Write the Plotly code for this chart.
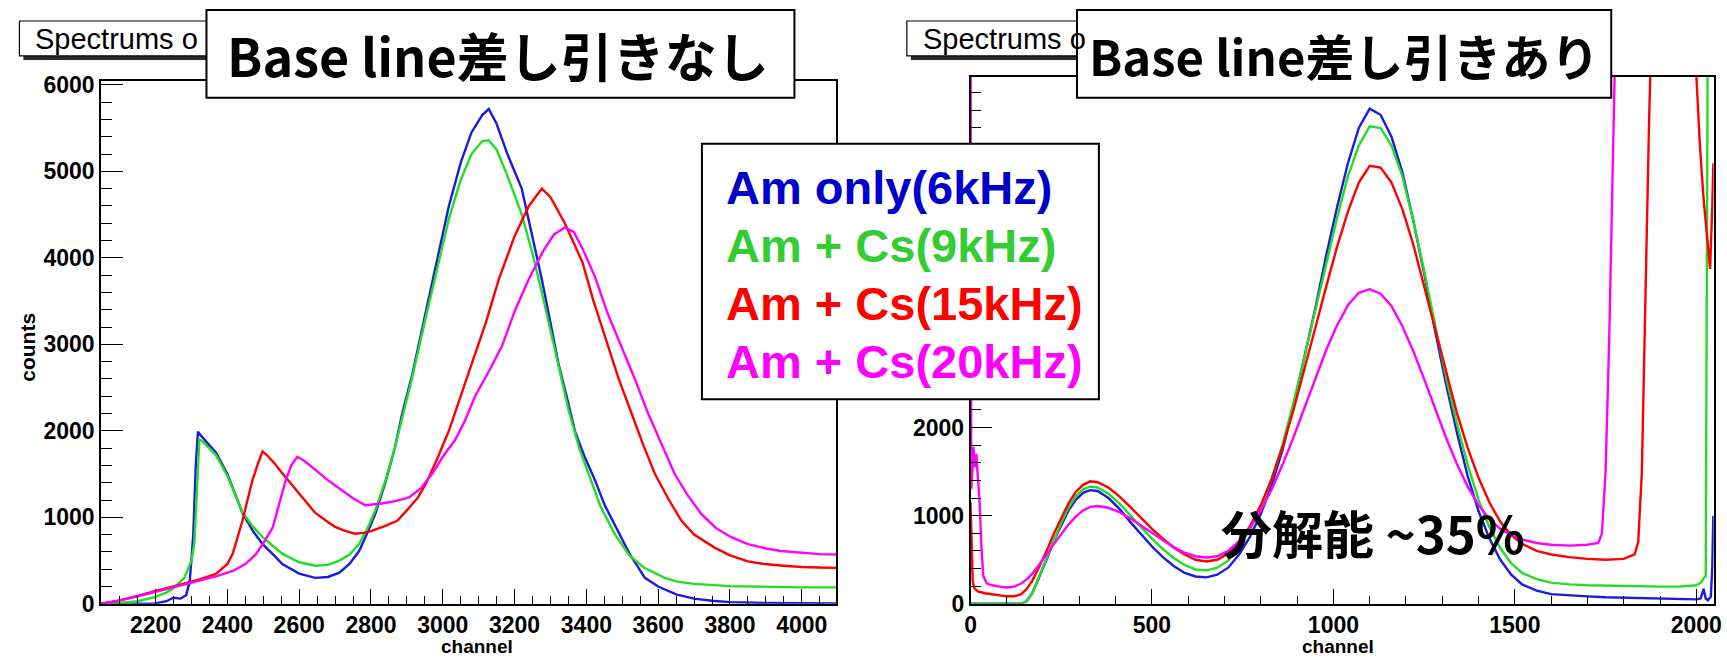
import plotly.graph_objects as go

W, H = 1727, 658

# ---------------- LEFT PANEL DATA (Base line subtraction off) ----------------
left_blue_ch = [2048, 2100, 2150, 2200, 2230, 2250, 2270, 2285, 2295, 2305, 2312, 2318, 2325, 2340, 2368, 2400, 2442, 2470, 2498, 2530, 2553, 2600, 2645, 2680, 2712, 2740, 2767, 2790, 2812, 2840, 2867, 2887, 2915, 2952, 2985, 3017, 3050, 3080, 3110, 3128, 3150, 3180, 3220, 3250, 3276, 3300, 3322, 3345, 3368, 3395, 3424, 3450, 3479, 3520, 3563, 3600, 3650, 3700, 3750, 3800, 3900, 4000, 4096]
left_blue_counts = [0, 0, 0, 5, 30, 70, 60, 100, 250, 800, 1600, 1990, 1950, 1880, 1750, 1500, 1050, 850, 690, 560, 460, 350, 300, 310, 360, 460, 610, 820, 1040, 1400, 1810, 2200, 2650, 3360, 4000, 4600, 5100, 5450, 5650, 5720, 5550, 5200, 4800, 4250, 3750, 3250, 2780, 2400, 2000, 1700, 1430, 1150, 920, 580, 300, 200, 110, 60, 35, 20, 10, 5, 5]

left_green_ch = [2048, 2100, 2150, 2200, 2230, 2250, 2280, 2300, 2308, 2313, 2318, 2322, 2330, 2368, 2400, 2442, 2470, 2498, 2530, 2553, 2600, 2645, 2680, 2712, 2740, 2767, 2790, 2812, 2840, 2867, 2890, 2915, 2952, 2985, 3017, 3050, 3080, 3110, 3128, 3150, 3180, 3220, 3250, 3276, 3300, 3322, 3350, 3380, 3410, 3440, 3480, 3520, 3560, 3618, 3650, 3700, 3800, 3900, 4000, 4096]
left_green_counts = [0, 10, 30, 80, 130, 180, 300, 500, 700, 1200, 1700, 1900, 1880, 1720, 1480, 1060, 900, 770, 660, 580, 480, 440, 450, 500, 570, 690, 870, 1080, 1420, 1810, 2200, 2620, 3300, 3900, 4450, 4900, 5200, 5350, 5360, 5250, 4950, 4500, 4050, 3600, 3150, 2750, 2250, 1800, 1450, 1120, 800, 560, 420, 300, 260, 230, 205, 195, 190, 190]

left_red_ch = [2048, 2090, 2150, 2200, 2250, 2276, 2320, 2368, 2400, 2415, 2430, 2442, 2456, 2470, 2485, 2498, 2510, 2530, 2553, 2575, 2600, 2620, 2645, 2675, 2700, 2730, 2756, 2780, 2800, 2840, 2873, 2900, 2931, 2952, 2985, 3017, 3053, 3081, 3120, 3156, 3200, 3240, 3276, 3300, 3340, 3389, 3420, 3461, 3490, 3526, 3560, 3591, 3630, 3665, 3700, 3757, 3800, 3850, 3896, 3950, 4000, 4050, 4096]
left_red_counts = [0, 30, 90, 150, 200, 230, 280, 345, 460, 580, 780, 960, 1200, 1430, 1620, 1760, 1720, 1630, 1510, 1400, 1280, 1170, 1050, 960, 890, 840, 810, 820, 840, 900, 960, 1080, 1230, 1380, 1680, 2000, 2450, 2780, 3250, 3750, 4250, 4600, 4800, 4700, 4400, 3950, 3500, 2980, 2600, 2200, 1820, 1500, 1200, 960, 800, 650, 560, 490, 460, 440, 425, 420, 415]

left_magenta_ch = [2048, 2100, 2184, 2250, 2322, 2370, 2415, 2450, 2479, 2500, 2526, 2545, 2562, 2578, 2595, 2615, 2645, 2680, 2720, 2750, 2784, 2831, 2870, 2906, 2940, 2970, 3000, 3034, 3060, 3090, 3130, 3165, 3200, 3239, 3280, 3310, 3340, 3365, 3390, 3424, 3460, 3498, 3535, 3572, 3610, 3646, 3683, 3720, 3760, 3803, 3850, 3900, 3942, 4000, 4050, 4096]
left_magenta_counts = [0, 40, 120, 190, 265, 320, 380, 460, 570, 700, 880, 1150, 1420, 1600, 1700, 1650, 1550, 1430, 1310, 1220, 1140, 1160, 1190, 1230, 1340, 1500, 1700, 1890, 2100, 2400, 2700, 2980, 3380, 3750, 4080, 4270, 4350, 4300, 4100, 3780, 3350, 2980, 2600, 2200, 1850, 1500, 1250, 1040, 880, 770, 690, 640, 610, 590, 575, 570]

# ---------------- RIGHT PANEL DATA (Base line subtraction on) ----------------
right_bg_ch = [0, 20, 60, 100, 140, 155, 170, 185, 200, 215, 230, 250, 270, 290, 310, 330, 350, 380, 410, 440, 470, 500, 530, 560, 590, 620, 650, 680, 710, 740, 770, 800, 830, 860, 890, 920, 950, 980, 1010, 1040, 1070, 1100, 1130, 1160, 1190, 1220, 1250, 1280, 1310, 1340, 1370, 1400, 1430, 1460, 1490, 1520, 1560, 1600, 1650, 1700, 1750, 1800, 1850, 1900, 1950, 2000, 2012, 2020, 2026, 2032, 2040, 2044, 2047]
right_blue_counts = [0, 0, 0, 0, 0, 30, 120, 260, 400, 560, 720, 900, 1060, 1180, 1260, 1290, 1280, 1200, 1080, 930, 790, 650, 530, 430, 350, 310, 300, 330, 410, 560, 760, 1020, 1350, 1750, 2250, 2800, 3350, 3950, 4500, 5000, 5400, 5620, 5550, 5300, 4900, 4350, 3750, 3100, 2500, 1950, 1450, 1050, 740, 500, 330, 220, 150, 110, 95, 85, 75, 70, 60, 55, 50, 50, 60, 170, 60, 40, 80, 400, 1000]
right_green_counts = [0, 0, 0, 0, 0, 30, 120, 270, 420, 580, 740, 920, 1090, 1220, 1300, 1330, 1320, 1250, 1140, 1000, 870, 740, 620, 520, 440, 390, 380, 410, 490, 640, 840, 1100, 1420, 1810, 2280, 2800, 3330, 3880, 4380, 4850, 5200, 5420, 5400, 5200, 4850, 4350, 3780, 3170, 2580, 2050, 1580, 1180, 870, 630, 460, 350, 280, 240, 220, 210, 205, 200, 200, 195, 195, 210, 240, 280, 320, 7000, 7000, 7000, 7000]

right_red_ch = [0, 3, 6, 10, 20, 40, 60, 80, 100, 120, 140, 155, 170, 185, 200, 215, 230, 250, 270, 290, 310, 330, 350, 380, 410, 440, 470, 500, 530, 560, 590, 620, 650, 680, 710, 740, 770, 800, 830, 860, 890, 920, 950, 980, 1010, 1040, 1070, 1100, 1130, 1160, 1190, 1220, 1250, 1280, 1310, 1340, 1370, 1400, 1430, 1460, 1490, 1520, 1560, 1600, 1650, 1700, 1750, 1800, 1830, 1840, 1850, 1860, 1870, 1880, 1990, 2000, 2010, 2020, 2030, 2038, 2044, 2047]
right_red_counts = [1150, 600, 260, 180, 140, 120, 110, 95, 85, 85, 110, 170, 260, 380, 510, 650, 800, 980, 1140, 1270, 1350, 1390, 1380, 1320, 1220, 1100, 970, 850, 740, 640, 560, 500, 480, 500, 570, 700, 880, 1120, 1420, 1780, 2200, 2650, 3130, 3600, 4050, 4450, 4780, 4970, 4950, 4780, 4480, 4080, 3600, 3100, 2620, 2170, 1770, 1430, 1150, 930, 780, 680, 600, 560, 530, 510, 500, 510, 560, 700, 1500, 3500, 5500, 7000, 7000, 6000, 5200, 4600, 4100, 3800, 4500, 5000]

right_magenta_ch = [0, 2, 5, 8, 12, 16, 20, 25, 30, 35, 45, 60, 80, 100, 120, 140, 155, 170, 185, 200, 215, 230, 250, 270, 290, 310, 330, 350, 380, 410, 440, 470, 500, 530, 560, 590, 620, 650, 680, 710, 740, 770, 800, 830, 860, 890, 920, 950, 980, 1010, 1040, 1070, 1100, 1130, 1160, 1190, 1220, 1250, 1280, 1310, 1340, 1370, 1400, 1430, 1460, 1490, 1520, 1560, 1600, 1650, 1700, 1730, 1740, 1750, 1760, 1770, 1780, 2047]
right_magenta_counts = [7000, 1300, 1500, 1780, 1550, 1700, 1450, 1150, 650, 320, 230, 210, 195, 185, 195, 230, 280, 340, 420, 500, 590, 680, 790, 900, 990, 1060, 1100, 1110, 1090, 1040, 970, 890, 800, 720, 640, 580, 540, 525, 540, 600, 710, 860, 1060, 1300, 1580, 1890, 2220, 2560, 2880, 3160, 3390, 3530, 3570, 3520, 3380, 3150, 2870, 2550, 2220, 1890, 1590, 1330, 1120, 960, 850, 780, 730, 690, 670, 660, 670, 690, 800, 1500, 3000, 5000, 7000, 7000]

series_names = ["Am only(6kHz)", "Am + Cs(9kHz)", "Am + Cs(15kHz)", "Am + Cs(20kHz)"]
line_colors = ["#1a1ae0", "#22dd22", "#ff0000", "#ff00ff"]
text_colors = ["#0000cc", "#33cc33", "#ff0000", "#ff00ff"]

left_x_ticks = [2200, 2400, 2600, 2800, 3000, 3200, 3400, 3600, 3800, 4000]
left_y_ticks = [0, 1000, 2000, 3000, 4000, 5000, 6000]
right_x_ticks = [0, 500, 1000, 1500, 2000]
right_y_ticks = [0, 1000, 2000, 3000, 4000, 5000]
right_y_ticktext = ["0", "1000", "2000", "", "", ""]

left_title = "Base line差し引きなし"
right_title = "Base line差し引きあり"
resolution_text = "分解能 ~35%"

# ---------------- geometry helpers (target screen pixels -> paper) ----------------
# empirical correction for how the page ends up on screen
SX, OX = 0.997, 2.5
SY, OY = 0.9685, 8.0

def px(x):
    return ((x - OX) / SX) / W

def py(y):
    return 1 - ((y - OY) / SY) / H

L_X0, L_X1, L_Y0, L_Y1 = 98, 837, 80, 604
R_X0, R_X1, R_Y0, R_Y1 = 972, 1719, 76, 604

fig = go.Figure()

left_sets = [(left_blue_ch, left_blue_counts), (left_green_ch, left_green_counts),
             (left_red_ch, left_red_counts), (left_magenta_ch, left_magenta_counts)]
right_sets = [(right_bg_ch, right_blue_counts), (right_bg_ch, right_green_counts),
              (right_red_ch, right_red_counts), (right_magenta_ch, right_magenta_counts)]

for (xs, ys), name, col in zip(left_sets, series_names, line_colors):
    fig.add_trace(go.Scatter(x=xs, y=ys, mode="lines", name=name,
                             line=dict(color=col, width=2.4), xaxis="x", yaxis="y",
                             showlegend=False))
for (xs, ys), name, col in zip(right_sets, series_names, line_colors):
    fig.add_trace(go.Scatter(x=xs, y=ys, mode="lines", name=name,
                             line=dict(color=col, width=2.4), xaxis="x2", yaxis="y2",
                             showlegend=False))

tick_font = dict(family="Liberation Sans, Arial, sans-serif", size=23, color="black", weight="bold")
axis_common = dict(showline=True, mirror=True, linecolor="black", linewidth=1.5,
                   ticks="inside", tickcolor="black", tickwidth=1.2,
                   showgrid=False, zeroline=False, tickfont=tick_font,
                   ticklabeloverflow="allow")

fig.update_layout(
    width=W, height=H,
    margin=dict(l=0, r=0, t=0, b=0),
    paper_bgcolor="white", plot_bgcolor="white",
    xaxis=dict(domain=[px(L_X0), px(L_X1)], range=[2048, 4096], anchor="y",
               tickvals=left_x_ticks, ticklen=15,
               minor=dict(dtick=50, tick0=2000, ticklen=8, ticks="inside", tickcolor="black"),
               **axis_common),
    yaxis=dict(domain=[py(L_Y1), py(L_Y0)], range=[0, 6046], anchor="x",
               tickvals=left_y_ticks, ticklen=22,
               minor=dict(dtick=200, ticklen=11, ticks="inside", tickcolor="black"),
               **axis_common),
    xaxis2=dict(domain=[px(R_X0), px(R_X1)], range=[0, 2048], anchor="y2",
                tickvals=right_x_ticks, ticklen=15,
                minor=dict(dtick=100, ticklen=8, ticks="inside", tickcolor="black"),
                **axis_common),
    yaxis2=dict(domain=[py(R_Y1), py(R_Y0)], range=[0, 5980], anchor="x2",
                tickvals=right_y_ticks, ticktext=right_y_ticktext, ticklen=22,
                minor=dict(dtick=200, ticklen=11, ticks="inside", tickcolor="black"),
                **axis_common),
)

shapes = []
annotations = []

def box(x0, y0, x1, y1, lw=1.5):
    shapes.append(dict(type="rect", xref="paper", yref="paper",
                       x0=px(x0), x1=px(x1), y0=py(y1), y1=py(y0),
                       fillcolor="white", line=dict(color="black", width=lw), layer="above"))

def shadow(x0, y0, x1, y1):
    shapes.append(dict(type="rect", xref="paper", yref="paper",
                       x0=px(x0), x1=px(x1), y0=py(y1), y1=py(y0),
                       fillcolor="#2a2a2a", line=dict(width=0), layer="above"))

# small ROOT title boxes (partly hidden by the big boxes)
for (bx, by) in [(16, 20), (908, 20)]:
    shadow(bx + 4, by + 4, bx + 260, by + 39)
    box(bx, by, bx + 256, by + 35, lw=1.2)
    annotations.append(dict(x=px(bx + 14), y=py(by + 18), xref="paper", yref="paper",
                            xanchor="left", yanchor="middle", showarrow=False,
                            text="Spectrums o",
                            font=dict(family="Liberation Sans, Arial", size=29, color="black")))

# big title boxes
box(204, 9, 795, 97, lw=2)
box(1079, 9, 1616, 97, lw=2)
cjk = "Noto Sans CJK JP, sans-serif"
annotations.append(dict(x=px(497), y=py(54), xref="paper", yref="paper",
                        xanchor="center", yanchor="middle", showarrow=False,
                        text="<b>" + left_title + "</b>",
                        font=dict(family=cjk, size=52, color="black")))
annotations.append(dict(x=px(1347), y=py(54), xref="paper", yref="paper",
                        xanchor="center", yanchor="middle", showarrow=False,
                        text="<b>" + right_title + "</b>",
                        font=dict(family=cjk, size=49, color="black")))

# legend box
box(702, 143, 1101, 399, lw=2)
legend_y = [187, 245, 303, 361]
for name, col, yy in zip(series_names, text_colors, legend_y):
    annotations.append(dict(x=px(724), y=py(yy), xref="paper", yref="paper",
                            xanchor="left", yanchor="middle", showarrow=False,
                            text="<b>" + name + "</b>",
                            font=dict(family="Liberation Sans, Arial", size=47, color=col)))

# resolution label
annotations.append(dict(x=px(1377), y=py(532), xref="paper", yref="paper",
                        xanchor="center", yanchor="middle", showarrow=False,
                        text="<b>" + resolution_text + "</b>",
                        font=dict(family=cjk, size=51, color="black")))

# axis titles
annotations.append(dict(x=px(24), y=py(347), xref="paper", yref="paper",
                        xanchor="center", yanchor="middle", showarrow=False,
                        text="<b>counts</b>", textangle=-90,
                        font=dict(family="Liberation Sans, Arial", size=21, color="black")))
for cx in [476, 1341]:
    annotations.append(dict(x=px(cx), y=py(647), xref="paper", yref="paper",
                            xanchor="center", yanchor="middle", showarrow=False,
                            text="<b>channel</b>",
                            font=dict(family="Liberation Sans, Arial", size=19, color="black")))

fig.update_layout(shapes=shapes, annotations=annotations)
fig.write_html(
    "out.html",
    config={"displayModeBar": False},
    post_script="document.documentElement.style.margin='0';document.body.style.margin='0';document.body.style.padding='0';document.body.style.overflow='hidden';",
)
